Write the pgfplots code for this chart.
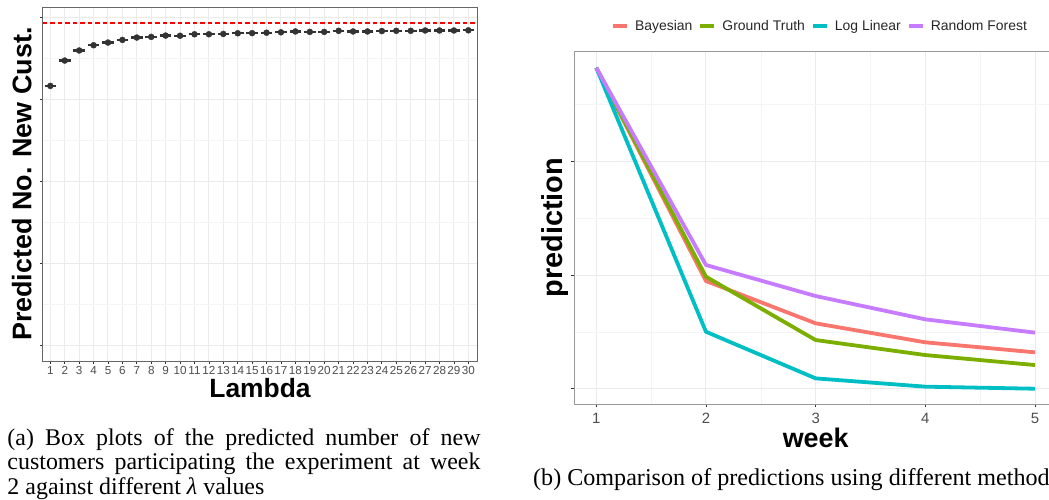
\documentclass[border=0pt]{standalone}
\usepackage{fontspec}
\setmainfont{Liberation Serif}
\newfontfamily\arial{Liberation Sans}
\usepackage{graphicx}
\usepackage{pgfplots}
\pgfplotsset{compat=1.18}

\definecolor{ggred}{HTML}{F8766D}
\definecolor{gggreen}{HTML}{7CAE00}
\definecolor{ggcyan}{HTML}{00BFC4}
\definecolor{ggpurple}{HTML}{C77CFF}
\definecolor{gridmaj}{HTML}{EBEBEB}
\definecolor{gridmin}{HTML}{F4F4F4}
\definecolor{tickgray}{HTML}{4D4D4D}
\definecolor{dark}{HTML}{333333}

% predicted no. of new customers, median per lambda
\pgfplotstableread{
lambda pred
1 3.166
2 3.475
3 3.598
4 3.662
5 3.695
6 3.727
7 3.756
8 3.764
9 3.780
10 3.778
11 3.796
12 3.796
13 3.800
14 3.808
15 3.810
16 3.815
17 3.820
18 3.830
19 3.825
20 3.825
21 3.838
22 3.830
23 3.830
24 3.835
25 3.838
26 3.838
27 3.842
28 3.842
29 3.842
30 3.844
}\lambdadata

\pgfplotsset{
  ggbase/.style={
    scale only axis,
    anchor=south west,
    axis line style={draw=black!60, line width=0.9bp},
    grid=both,
    major grid style={gridmaj, line width=1bp},
    minor grid style={gridmin, line width=0.6bp},
    tick align=outside,
    tick pos=left,
    major tick length=3bp,
    minor tick length=0pt,
    tick style={dark, line width=0.8bp},
    yticklabels={},
    /pgf/number format/assume math mode=true,
    ticklabel style={tickgray, inner sep=0pt},
    label style={font=\arial\bfseries},
  },
}

\begin{document}
\begin{tikzpicture}[x=1bp,y=1bp]

% (a) lambda box plots
\begin{axis}[ggbase,
  at={(42.7bp,139bp)}, width=434.6bp, height=353.7bp,
  xmin=0.47, xmax=30.62, ymin=-0.19, ymax=4.125,
  xtick={1,...,30}, minor xtick={},
  ytick={0,1,2,3,4}, minor ytick={0.5,1.5,2.5,3.5},
  xticklabel style={font=\arial\fontsize{11.7}{12}\selectfont, anchor=north, yshift=-2bp},
  xlabel={\fontsize{26.5}{28}\selectfont Lambda},
  xlabel style={at={(axis description cs:0.5,-0.1018)}, anchor=base},
  ylabel={\fontsize{27}{28}\selectfont Predicted No. New Cust.},
  ylabel style={at={(axis description cs:-0.0258,0.5)}, anchor=base, rotate=0},
]
\addplot[draw=red, mark=none, dash pattern=on 4.5bp off 3bp, line width=1.6bp] coordinates {(0.47,3.93) (30.62,3.93)};
\addplot[only marks, dark, mark=-, mark size=5.8bp, mark options={line width=2.2bp}] table[x=lambda, y=pred] {\lambdadata};
\addplot[only marks, dark, mark=*, mark size=3bp] table[x=lambda, y=pred] {\lambdadata};
\end{axis}

% (b) predictions per method
\begin{axis}[ggbase,
  at={(574.3bp,95.7bp)}, width=482.7bp, height=353.3bp,
  axis line style={draw=black!40, line width=0.9bp},
  xmin=0.8, xmax=5.2, ymin=-0.137, ymax=2.97,
  xtick={1,...,5}, minor xtick={1.5,2.5,3.5,4.5},
  ytick={0,1,2}, minor ytick={0.5,1.5,2.5},
  xticklabel style={font=\arial\fontsize{15}{16}\selectfont, anchor=north, yshift=-5.5bp},
  xlabel={\fontsize{27}{29}\selectfont week},
  xlabel style={at={(axis description cs:0.5,-0.122)}, anchor=base},
  ylabel={\fontsize{29}{30}\selectfont prediction},
  ylabel style={at={(axis description cs:-0.025,0.5)}, anchor=base},
  legend columns=4,
  legend style={at={(axis description cs:0.507,1.0708)}, anchor=center, draw=none,
    fill=none, column sep=6bp, nodes={inner sep=0pt},
    font=\arial\fontsize{14}{15}\selectfont, text=black!85},
  legend image code/.code={\draw[#1, line width=4bp] (0bp,0bp) -- (14bp,0bp);},
  every axis plot/.append style={line width=3.8bp, line join=round},
]
\addplot[ggred] coordinates {(1,2.823) (2,0.947) (3,0.575) (4,0.408) (5,0.320)};
\addplot[gggreen] coordinates {(1,2.823) (2,0.985) (3,0.428) (4,0.296) (5,0.208)};
\addplot[ggcyan] coordinates {(1,2.823) (2,0.501) (3,0.091) (4,0.018) (5,0.000)};
\addplot[ggpurple] coordinates {(1,2.823) (2,1.088) (3,0.815) (4,0.610) (5,0.493)};
\legend{Bayesian, Ground Truth, Log Linear, Random Forest}
\end{axis}

% captions
\node[anchor=north west, inner sep=0pt, text width=473bp, align=justify,
  font=\fontsize{24}{25}\selectfont] at (7.3bp,72bp)
  {(a) Box plots of the predicted number of new customers participating the experiment at week\linebreak 2 against different \textit{λ} values};
\node[anchor=base west, inner sep=0pt, font=\fontsize{24.2}{27}\selectfont] at (533bp,15bp)
  {(b) Comparison of predictions using different method};

\pgfresetboundingbox
\path[use as bounding box] (0,0) rectangle (1049bp,500bp);
\end{tikzpicture}
\end{document}
